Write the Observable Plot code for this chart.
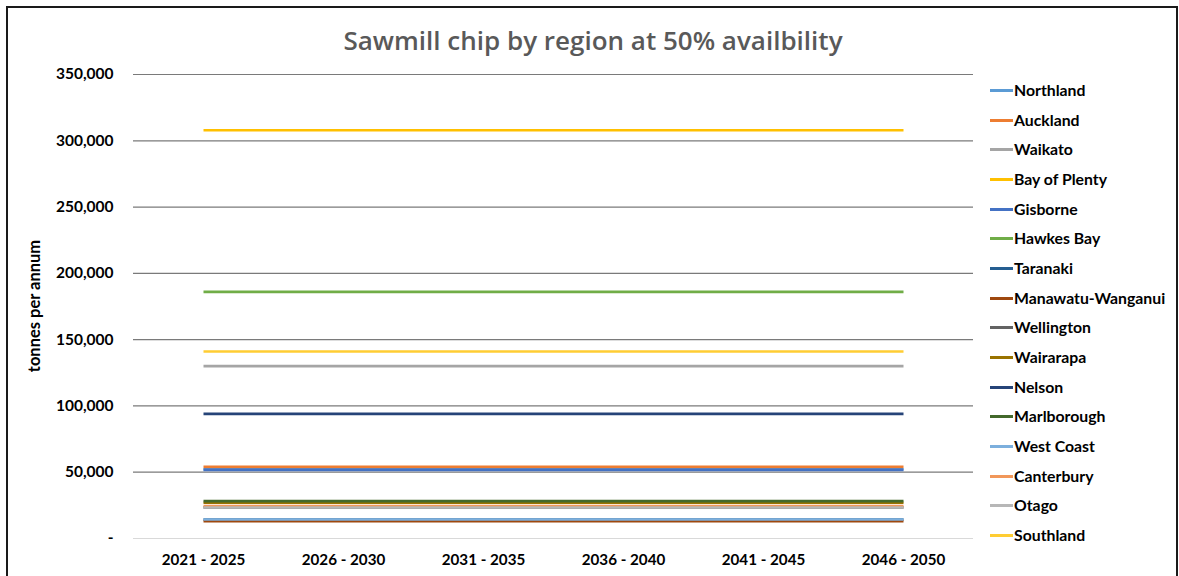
<!DOCTYPE html>
<html>
<head>
<meta charset="utf-8">
<script src="https://cdn.jsdelivr.net/npm/d3@7"></script>
<script src="https://cdn.jsdelivr.net/npm/@observablehq/plot@0.6"></script>
<style>
  html, body { margin: 0; padding: 0; background: #fff; }
  #wrap { position: relative; width: 1179px; height: 576px; overflow: hidden; font-family: Lato, "Open Sans", sans-serif; }
  #frame { position: absolute; left: 6px; top: 6px; width: 1172px; height: 620px; border: 2px solid #1a1a1a; box-sizing: border-box; }
  #title { position: absolute; left: 0; top: 22px; width: 1186px; text-align: center; font-family: "Open Sans", Lato, sans-serif; font-weight: 600; font-size: 26px; color: #595959; }
  #ylabel { position: absolute; left: 34px; top: 306px; transform: translate(-50%, -50%) rotate(-90deg); font-size: 16.5px; font-weight: bold; color: #000; white-space: nowrap; }
  #legend { position: absolute; left: 990px; top: 0; }
  .li { position: absolute; left: 0; height: 20px; white-space: nowrap; font-size: 15.8px; font-weight: bold; color: #000; }
  .li span.sw { position: absolute; left: 0; top: 9px; width: 23px; height: 3px; }
  .li span.tx { position: absolute; left: 24px; top: 0; line-height: 20px; }
  #chart { position: absolute; left: 0; top: 0; }
</style>
</head>
<body>
<div id="wrap">
  <div id="frame"></div>
  <div id="chart"></div>
  <div id="title"></div>
  <div id="ylabel"></div>
  <div id="legend"></div>
</div>
<script>
const titleText = "Sawmill chip by region at 50% availbility";
const yLabel = "tonnes per annum";
const periods = ["2021 - 2025", "2026 - 2030", "2031 - 2035", "2036 - 2040", "2041 - 2045", "2046 - 2050"];
const regions = ["Northland", "Auckland", "Waikato", "Bay of Plenty", "Gisborne", "Hawkes Bay", "Taranaki",
  "Manawatu-Wanganui", "Wellington", "Wairarapa", "Nelson", "Marlborough", "West Coast", "Canterbury", "Otago", "Southland"];
// tonnes per annum, constant over all periods (flat lines in the source)
const values = [52200, 54000, 130000, 308000, 51800, 186000, 14300, 13000, 23500, 27000, 94000, 28200, 14300, 24400, 23400, 141000];
const colors = ["#5B9BD5", "#ED7D31", "#A5A5A5", "#FFC000", "#4472C4", "#70AD47", "#255E91",
  "#9E480E", "#636363", "#997300", "#264478", "#43682B", "#7CAFDD", "#F1975A", "#B7B7B7", "#FFCD33"];
const yTicks = [0, 50000, 100000, 150000, 200000, 250000, 300000, 350000];

const data = [];
regions.forEach((r, i) => periods.forEach(p => data.push({region: r, period: p, value: values[i]})));

const fmt = d => d === 0 ? "-" : d3.format(",")(d);

const chart = Plot.plot({
  width: 1179,
  height: 576,
  marginLeft: 133,
  marginRight: 206,
  marginTop: 74,
  marginBottom: 38,
  style: {fontFamily: "Lato, 'Open Sans', sans-serif", fontSize: "15.5px", fontWeight: "bold", color: "#000", background: "transparent"},
  x: {type: "point", domain: periods, padding: 0.5, label: null},
  y: {domain: [0, 350000], label: null},
  color: {domain: regions, range: colors},
  marks: [
    Plot.ruleY(yTicks.filter(d => d > 0), {stroke: "#7a7a7a", strokeWidth: 1.2}),
    Plot.ruleY([0], {stroke: "#d9d9d9", strokeWidth: 1.2}),
    Plot.axisY({ticks: yTicks, tickFormat: fmt, tickSize: 0, tickPadding: 20, label: null, fontSize: 15.5, fontWeight: "bold"}),
    Plot.axisX({tickSize: 0, tickPadding: 16, label: null, fontSize: 15.2, fontWeight: "bold"}),
    Plot.line(data, {x: "period", y: "value", z: "region", stroke: "region", strokeWidth: 2.6, strokeLinecap: "butt"})
  ]
});
document.getElementById("chart").appendChild(chart);
document.getElementById("title").textContent = titleText;
document.getElementById("ylabel").textContent = yLabel;

const legend = document.getElementById("legend");
regions.forEach((r, i) => {
  const d = document.createElement("div");
  d.className = "li";
  d.style.top = (80 + i * 29.67) + "px";
  const sw = document.createElement("span");
  sw.className = "sw";
  sw.style.background = colors[i];
  const tx = document.createElement("span");
  tx.className = "tx";
  tx.textContent = r;
  d.appendChild(sw);
  d.appendChild(tx);
  legend.appendChild(d);
});
</script>
</body>
</html>
